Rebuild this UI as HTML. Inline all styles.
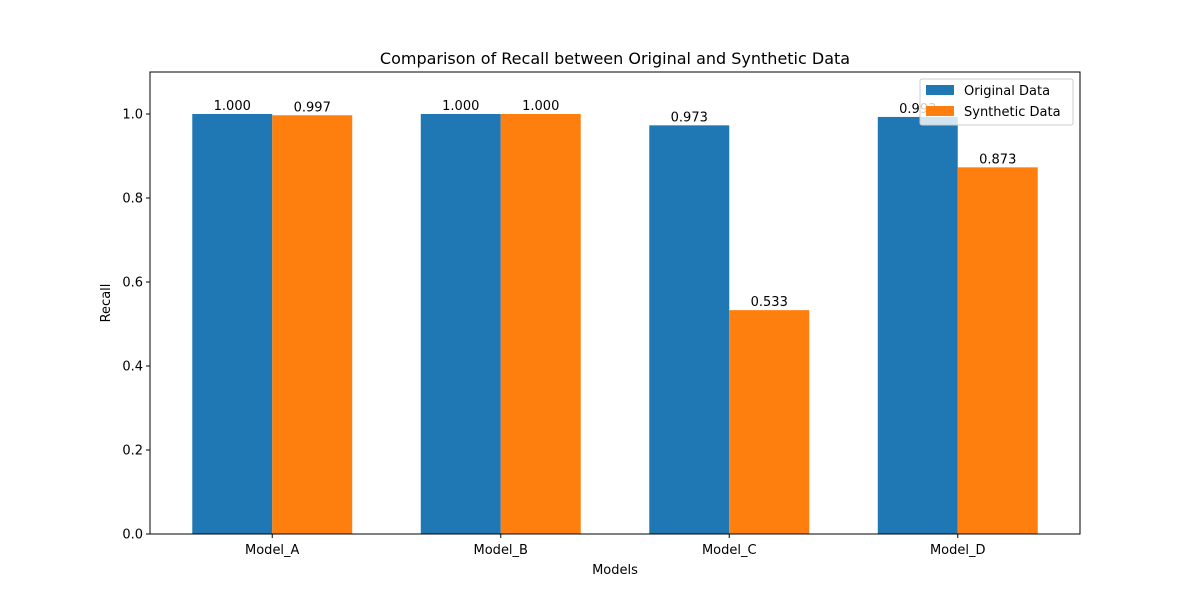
<!DOCTYPE html>
<html><head><meta charset="utf-8"><style>
body{margin:0;background:#fff;}
text{font-family:"DejaVu Sans","Liberation Sans",sans-serif;fill:#000;}
</style></head><body>
<svg id="chart" width="1200" height="600" xmlns="http://www.w3.org/2000/svg">
<rect width="1200" height="600" fill="#fff"/>
<text x="615" y="64" font-size="16" text-anchor="middle">Comparison of Recall between Original and Synthetic Data</text>
<g id="plot"></g>
<text x="615" y="574" font-size="13" text-anchor="middle">Models</text>
<text x="110" y="303" font-size="13" text-anchor="middle" transform="rotate(-90 110 303)">Recall</text>
<g>
<rect x="920" y="79" width="153" height="46" fill="#fff" fill-opacity="0.8" stroke="#ccc" rx="2"/>
<rect x="926" y="85" width="28" height="10" fill="#1f77b4"/>
<text x="964" y="95" font-size="13">Original Data</text>
<rect x="926" y="106" width="28" height="10" fill="#ff7f0e"/>
<text x="964" y="116" font-size="13">Synthetic Data</text>
</g>
</svg>
<script>
const categories = ["Model_A","Model_B","Model_C","Model_D"];
const originalValues = [1.000, 1.000, 0.973, 0.993];
const syntheticValues = [0.997, 1.000, 0.533, 0.873];
const yTicks = [0.0,0.2,0.4,0.6,0.8,1.0];

const L=150,R=1080,T=72,B=534,yMax=1.1,xMin=-0.535,xMax=3.535,bw=0.35;
const sx=v=>L+(v-xMin)/(xMax-xMin)*(R-L);
const sy=v=>B-v/yMax*(B-T);
const NS="http://www.w3.org/2000/svg";
const g=document.getElementById('plot');
function mk(t,a){const e=document.createElementNS(NS,t);for(const k in a)e.setAttribute(k,a[k]);g.appendChild(e);return e;}

function bars(vals,off,color,name){
  vals.forEach((v,i)=>{
    const x0=sx(i+off-bw/2),x1=sx(i+off+bw/2);
    const r=mk('rect',{x:x0,y:sy(v),width:x1-x0,height:B-sy(v),fill:color});
    
    
    const t=mk('text',{x:(x0+x1)/2,y:sy(v)-4,'font-size':13,'text-anchor':'middle'});
    t.textContent=v.toFixed(3);
    
    
  });
}
bars(originalValues,-bw/2,'#1f77b4','original');
bars(syntheticValues,bw/2,'#ff7f0e','synthetic');

const frame=mk('rect',{x:L,y:T,width:R-L,height:B-T,fill:'none',stroke:'#000','stroke-width':1});



yTicks.forEach(v=>{
  const y=sy(v);
  mk('line',{x1:L-4,x2:L,y1:y,y2:y,stroke:'#000'});
  const t=mk('text',{x:L-7,y:y+4.5,'font-size':13,'text-anchor':'end'});
  t.textContent=v.toFixed(1);
  
  
});
categories.forEach((c,i)=>{
  const x=sx(i);
  mk('line',{x1:x,x2:x,y1:B,y2:B+4,stroke:'#000'});
  const t=mk('text',{x:x,y:B+20,'font-size':13,'text-anchor':'middle'});
  t.textContent=c;
  
  
});
</script>
</body></html>
